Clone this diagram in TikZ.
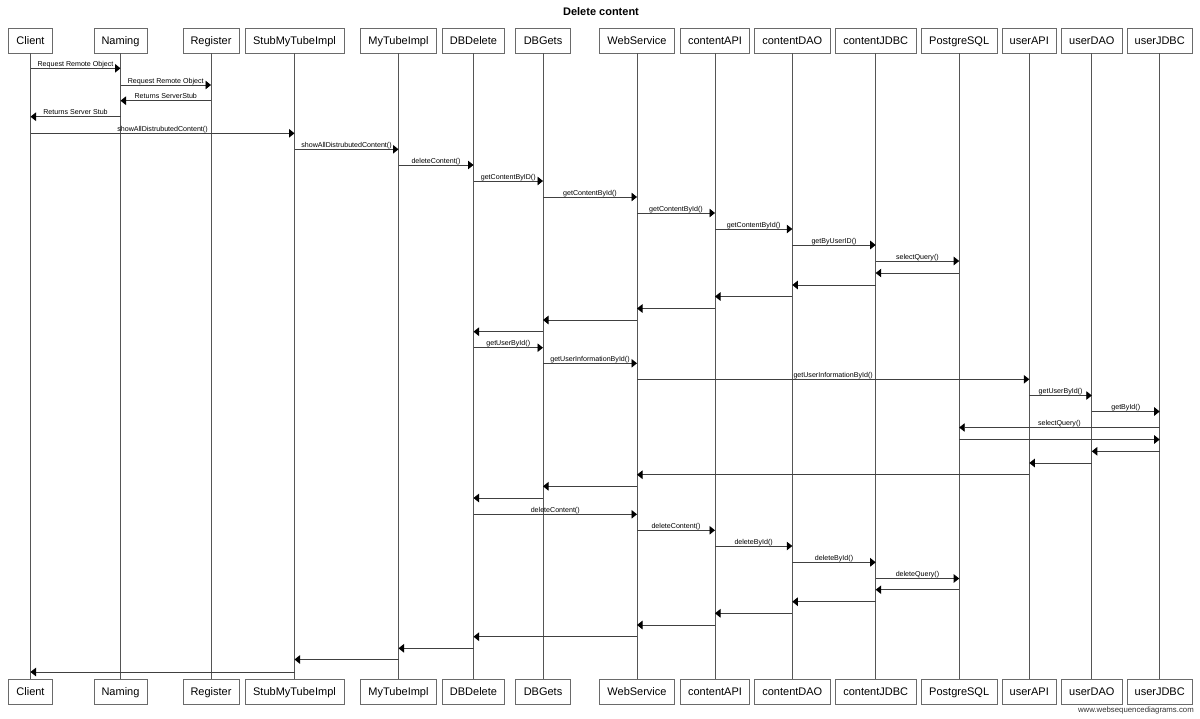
\documentclass[tikz,border=0pt]{standalone}
\usepackage{fontspec}
\setmainfont{Liberation Sans}
\usetikzlibrary{arrows.meta}

\definecolor{boxline}{HTML}{6A6A6A}
\definecolor{lifeline}{HTML}{555555}
\definecolor{msgline}{HTML}{404040}

\tikzset{
  pbox/.style={draw=boxline, line width=0.8pt, fill=white, minimum height=25pt,
               inner xsep=0pt, inner ysep=0pt, text height=8pt, text depth=0.4pt,
               font=\fontsize{11}{13}\selectfont},
  life/.style={draw=lifeline, line width=0.8pt},
  msgarrow/.style={draw=msgline, line width=0.8pt,
                   -{Triangle[length=5.5pt,width=8.5pt,color=black,fill=black]}},
  lbl/.style={anchor=base, yshift=2pt, inner sep=0pt,
              font=\fontsize{7.1}{8}\selectfont},
}

% a participant: top box, bottom box and the lifeline between them
\newcommand{\participant}[4]{%
  \node[pbox, minimum width=#3pt] (#1T) at (#2,40.5) {#4};
  \node[pbox, minimum width=#3pt] (#1B) at (#2,691.5) {#4};
  \draw[life] (#1T.south) -- (#1B.north);
}
% a call with a label, and a plain return
\newcommand{\seqcall}[4]{%
  \draw[msgarrow] (#1T |- 0,#3) -- node[lbl]{#4} (#2T |- 0,#3);
}
\newcommand{\seqret}[3]{%
  \draw[msgarrow] (#1T |- 0,#3) -- (#2T |- 0,#3);
}

\begin{document}
\begin{tikzpicture}[x=1pt, y=-1pt]
\useasboundingbox (0,0) rectangle (1200,718);

\node[font=\bfseries\fontsize{11}{13}\selectfont, anchor=base] (title) at (601,15) {Delete content};

\participant{cl}{30.5}{44}{Client}
\participant{nm}{120.5}{53}{Naming}
\participant{rg}{211}{56}{Register}
\participant{st}{294.5}{99}{StubMyTubeImpl}
\participant{mt}{398.5}{76}{MyTubeImpl}
\participant{dd}{473.5}{62}{DBDelete}
\participant{dg}{543}{55}{DBGets}
\participant{ws}{637}{75}{WebService}
\participant{ca}{715}{69}{contentAPI}
\participant{cd}{792.3}{76}{contentDAO}
\participant{cj}{875.7}{81}{contentJDBC}
\participant{pg}{959.2}{76}{PostgreSQL}
\participant{ua}{1029.3}{54}{userAPI}
\participant{ud}{1091.8}{61}{userDAO}
\participant{uj}{1159.7}{65}{userJDBC}

% remote object lookup
\seqcall{cl}{nm}{68.3}{Request Remote Object}
\seqcall{nm}{rg}{85}{Request Remote Object}
\seqcall{rg}{nm}{100.7}{Returns ServerStub}
\seqcall{nm}{cl}{116.7}{Returns Server Stub}
\seqcall{cl}{st}{133.3}{showAllDistrubutedContent()}
\seqcall{st}{mt}{149.3}{showAllDistrubutedContent()}
\seqcall{mt}{dd}{165}{deleteContent()}

% content lookup
\seqcall{dd}{dg}{181}{getContentByID()}
\seqcall{dg}{ws}{197}{getContentById()}
\seqcall{ws}{ca}{213}{getContentById()}
\seqcall{ca}{cd}{229}{getContentById()}
\seqcall{cd}{cj}{245}{getByUserID()}
\seqcall{cj}{pg}{261}{selectQuery()}
\seqret{pg}{cj}{273}
\seqret{cj}{cd}{285}
\seqret{cd}{ca}{296.5}
\seqret{ca}{ws}{308.5}
\seqret{ws}{dg}{320}
\seqret{dg}{dd}{331.7}

% user lookup
\seqcall{dd}{dg}{347.7}{getUserById()}
\seqcall{dg}{ws}{363.3}{getUserInformationById()}
\seqcall{ws}{ua}{379.3}{getUserInformationById()}
\seqcall{ua}{ud}{395.5}{getUserById()}
\seqcall{ud}{uj}{411.5}{getById()}
\seqcall{uj}{pg}{427.5}{selectQuery()}
\seqret{pg}{uj}{439.5}
\seqret{uj}{ud}{451.3}
\seqret{ud}{ua}{463}
\seqret{ua}{ws}{474.7}
\seqret{ws}{dg}{486.3}
\seqret{dg}{dd}{498}

% deletion
\seqcall{dd}{ws}{514.3}{deleteContent()}
\seqcall{ws}{ca}{530.3}{deleteContent()}
\seqcall{ca}{cd}{546}{deleteById()}
\seqcall{cd}{cj}{562.3}{deleteById()}
\seqcall{cj}{pg}{578.5}{deleteQuery()}
\seqret{pg}{cj}{589.7}
\seqret{cj}{cd}{601.7}
\seqret{cd}{ca}{613.3}
\seqret{ca}{ws}{625}
\seqret{ws}{dd}{636.7}
\seqret{dd}{mt}{648.3}
\seqret{mt}{st}{659.5}
\seqret{st}{cl}{672}

\node[anchor=base east, inner sep=0pt, font=\fontsize{7.8}{9}\selectfont, text=black!80] (credit) at (1194,712) {www.websequencediagrams.com};
\end{tikzpicture}
\end{document}
